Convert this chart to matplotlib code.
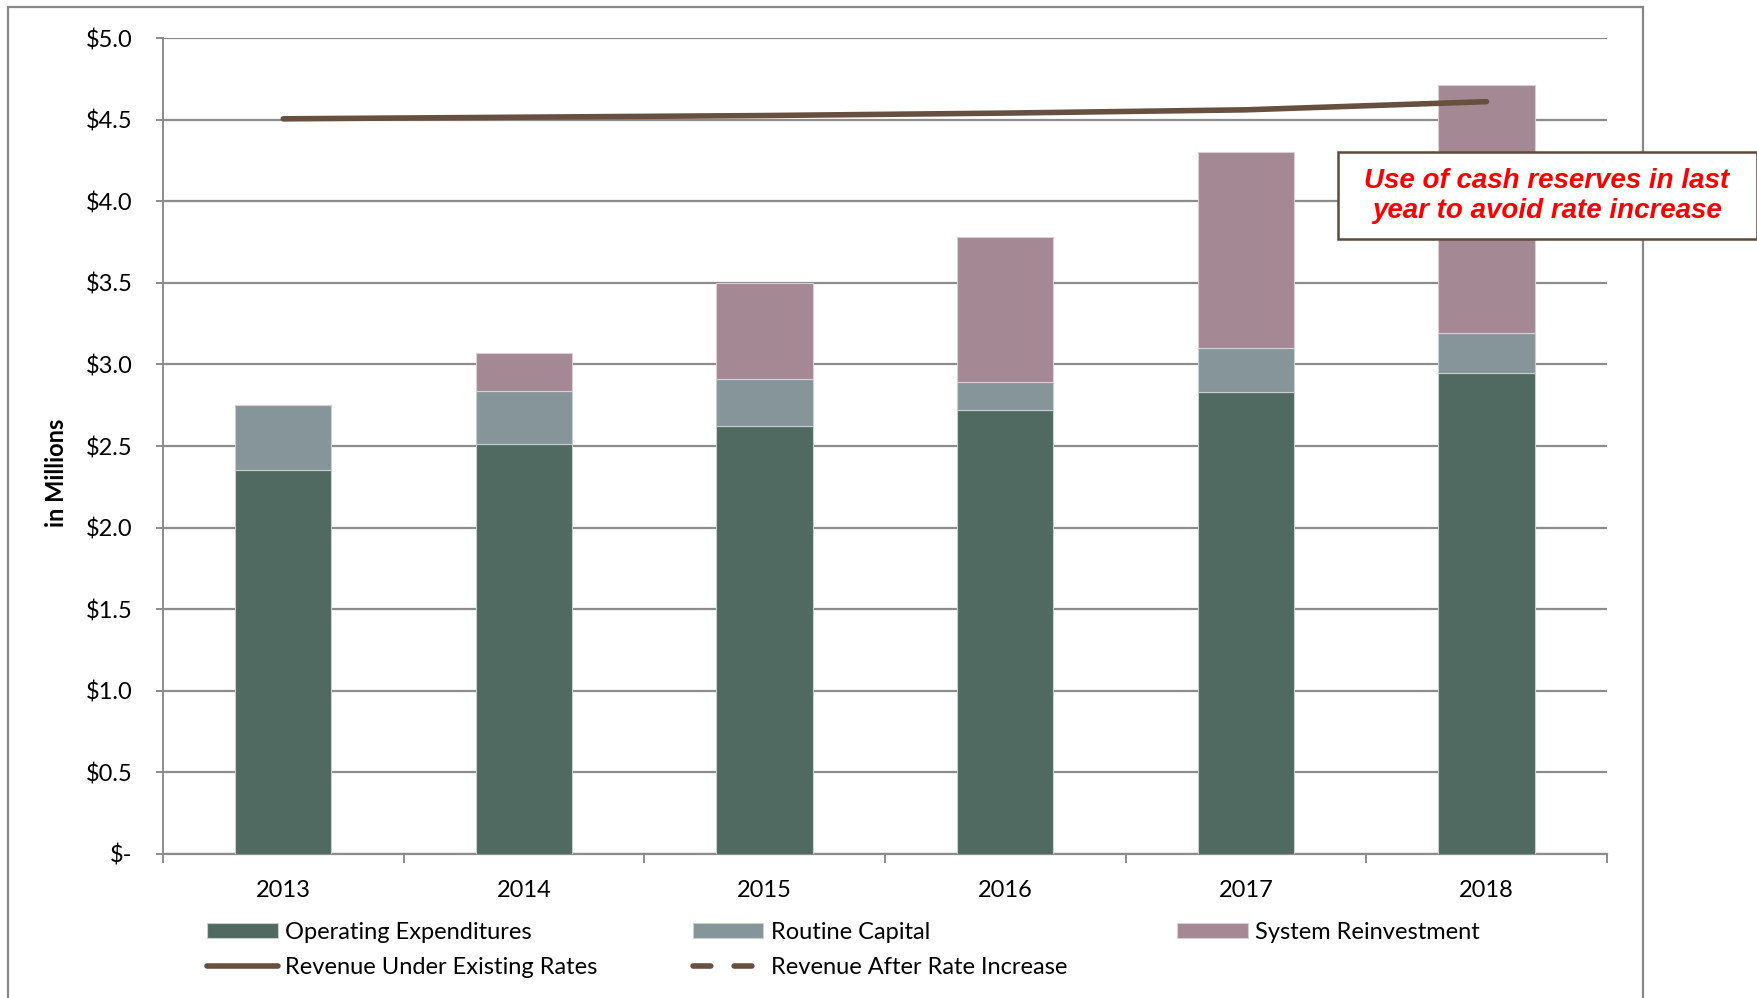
## stacked bar chart of costs vs revenue, 2013-2018
import numpy as np
import matplotlib.pyplot as plt
from matplotlib.patches import Rectangle
from matplotlib.ticker import FixedLocator

plt.rcParams['font.family'] = ['Lato', 'DejaVu Sans']

# values in millions of dollars
years = ['2013', '2014', '2015', '2016', '2017', '2018']
operating = [2.35, 2.51, 2.62, 2.72, 2.83, 2.95]
routine_capital = [0.40, 0.33, 0.29, 0.17, 0.27, 0.24]
system_reinvest = [0.00, 0.23, 0.59, 0.89, 1.20, 1.52]
revenue_existing = [4.505, 4.515, 4.525, 4.54, 4.56, 4.61]
revenue_after = [np.nan] * 6  # shown in legend only
ytick_vals = [0, 0.5, 1.0, 1.5, 2.0, 2.5, 3.0, 3.5, 4.0, 4.5, 5.0]
ytick_labels = ['$-', '$0.5', '$1.0', '$1.5', '$2.0', '$2.5', '$3.0',
                '$3.5', '$4.0', '$4.5', '$5.0']

c_op = '#506A62'
c_rc = '#86959A'
c_sr = '#A48893'
c_rev = '#67503F'
c_grid = '#8C8C8C'

fig = plt.figure(figsize=(17.58, 9.98), dpi=100)
ax = fig.add_axes([0.0927, 0.1443, 0.8213, 0.8176])

x = np.arange(len(years))
bottom2 = np.array(operating)
bottom3 = bottom2 + np.array(routine_capital)
w = 0.4
b1 = ax.bar(x, operating, w, color=c_op, edgecolor='#C8CFCD', linewidth=0.8,
            label='Operating Expenditures', zorder=3)
b2 = ax.bar(x, routine_capital, w, bottom=bottom2, color=c_rc, edgecolor='#C8CFCD',
            linewidth=0.8, label='Routine Capital', zorder=3)
b3 = ax.bar(x, system_reinvest, w, bottom=bottom3, color=c_sr, edgecolor='#DCCFD4',
            linewidth=0.8, label='System Reinvestment', zorder=3)
l1, = ax.plot(x, revenue_existing, color=c_rev, lw=4, solid_capstyle='round',
              label='Revenue Under Existing Rates', zorder=4)
l2, = ax.plot(x, revenue_after, color=c_rev, lw=4, ls=(0, (3.2, 4.2)),
              dash_capstyle='round', label='Revenue After Rate Increase', zorder=4)

ax.set_xlim(-0.5, 5.5)
ax.set_ylim(0, 5.0)
ax.set_yticks(ytick_vals)
ax.set_yticklabels(ytick_labels)
ax.set_xticks(x)
ax.set_xticklabels(years)
ax.xaxis.set_minor_locator(FixedLocator(np.arange(-0.5, 6.0, 1.0)))
ax.tick_params(axis='x', which='major', length=0, pad=19, labelsize=17)
ax.tick_params(axis='x', which='minor', length=6.5, width=1.4, color=c_grid)
ax.tick_params(axis='y', length=5, width=1.4, color=c_grid, pad=17, labelsize=17)
ax.grid(axis='y', color=c_grid, lw=1.6, zorder=0)
for s in ['top', 'right']:
    ax.spines[s].set_visible(False)
ax.spines['left'].set_color(c_grid)
ax.spines['left'].set_linewidth(1.4)
ax.spines['bottom'].set_color(c_grid)
ax.spines['bottom'].set_linewidth(1.6)

ax.set_ylabel('in Millions', fontsize=17, fontweight='bold')
ax.yaxis.set_label_coords(-0.066, 0.467)

# legend laid out as three columns, one legend each
leg_cols = [([b1, l1], 0.1178), ([b2, l2], 0.394), ([b3], 0.6697)]
for hs, xpos in leg_cols:
    fig.legend(hs, [h.get_label() for h in hs], loc='upper left',
               bbox_to_anchor=(xpos, 0.076), frameon=False, fontsize=17,
               handlelength=3.0, handleheight=0.6, handletextpad=0.3,
               labelspacing=0.6, borderaxespad=0, borderpad=0)

# outer chart frame
fig.patches.append(Rectangle((8 / 1758, -0.05), 1635 / 1758, 0.05 + 1 - 7 / 998,
                             transform=fig.transFigure, fill=False,
                             edgecolor='#878787', lw=1.6))

# annotation box
fig.patches.append(Rectangle((1338 / 1758, 1 - 239 / 998), 419 / 1758, 87 / 998,
                             transform=fig.transFigure, facecolor='white',
                             edgecolor='#5E4B3C', lw=1.8, zorder=5))
fig.text(1547 / 1758, 1 - 196 / 998,
         'Use of cash reserves in last\nyear to avoid rate increase',
         ha='center', va='center', color='#FF0000', fontsize=20,
         fontweight='bold', fontstyle='italic', family='Liberation Sans',
         linespacing=1.2, zorder=6)

plt.savefig('out.png', dpi=100)
